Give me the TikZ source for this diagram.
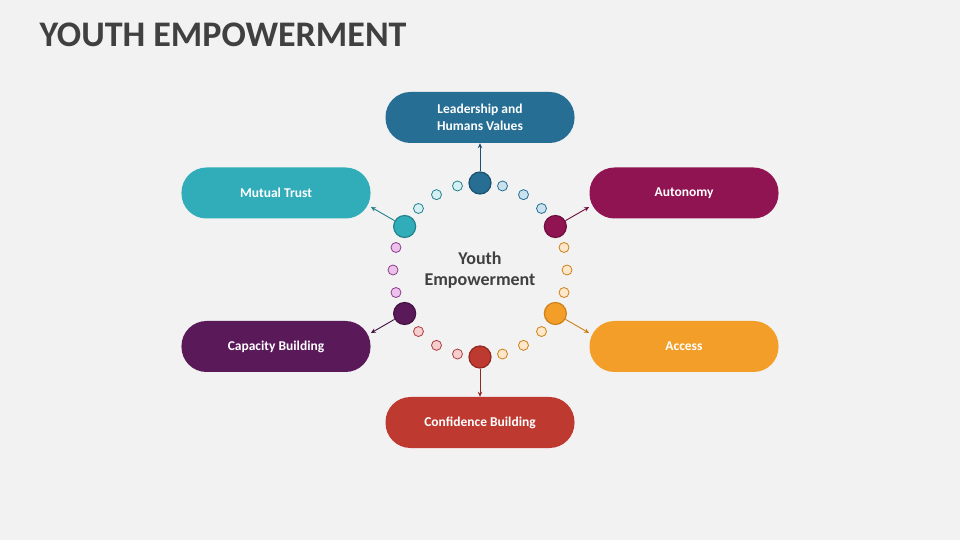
\documentclass[tikz,border=0pt]{standalone}
\usepackage{fontspec}
\setmainfont{Carlito}
\usepackage{tikz}
\usetikzlibrary{positioning, arrows.meta}
\definecolor{bggray}{RGB}{242,242,242}
\definecolor{inkgray}{RGB}{64,64,64}
\definecolor{cblue}{RGB}{38,110,148}
\definecolor{cblueedge}{RGB}{28,82,112}
\definecolor{cbluelite}{RGB}{202,226,240}
\definecolor{cteal}{RGB}{49,172,185}
\definecolor{ctealedge}{RGB}{36,130,140}
\definecolor{ctealite}{RGB}{212,240,244}
\definecolor{cmag}{RGB}{145,20,82}
\definecolor{cmagedge}{RGB}{110,14,62}
\definecolor{cpurp}{RGB}{90,26,90}
\definecolor{cpurpedge}{RGB}{66,18,66}
\definecolor{cpurplite}{RGB}{236,194,236}
\definecolor{cpurpdot}{RGB}{140,62,140}
\definecolor{corange}{RGB}{243,158,41}
\definecolor{corangeedge}{RGB}{205,128,24}
\definecolor{corangelite}{RGB}{255,231,202}
\definecolor{cred}{RGB}{190,58,48}
\definecolor{credge}{RGB}{146,40,34}
\definecolor{credlite}{RGB}{246,206,206}
\definecolor{creddot}{RGB}{170,62,62}

\begin{document}
\begin{tikzpicture}[x=1pt, y=1pt,
  pill/.style={rectangle, rounded corners=25pt, minimum width=189pt, minimum height=51pt, align=center, text=white, font=\bfseries\fontsize{13.5}{16.5}\selectfont},
  hub/.style={circle, minimum size=22pt, inner sep=0pt, line width=1.2pt},
  dot/.style={circle, minimum size=10pt, inner sep=0pt, line width=0.8pt},
  link/.style={-{Stealth[length=5pt, width=4.5pt]}, line width=0.9pt}
]
\fill[bggray] (-480,-270) rectangle (480,270);

\node[anchor=base west, text=inkgray, font=\bfseries\fontsize{36}{40}\selectfont] (title) at (-444,223) {YOUTH EMPOWERMENT};

\node[text=inkgray, align=center, font=\bfseries\fontsize{18}{21}\selectfont] (core) at (0,0) {Youth\\Empowerment};

% ring of small dots
\foreach \a/\fc/\dc in {45/cbluelite/cblue, 60/cbluelite/cblue, 75/cbluelite/cblue,
  105/ctealite/ctealedge, 120/ctealite/ctealedge, 135/ctealite/ctealedge,
  165/cpurplite/cpurpdot, 180/cpurplite/cpurpdot, 195/cpurplite/cpurpdot,
  225/credlite/creddot, 240/credlite/creddot, 255/credlite/creddot,
  285/corangelite/corangeedge, 300/corangelite/corangeedge, 315/corangelite/corangeedge,
  345/corangelite/corangeedge, 0/corangelite/corangeedge, 15/corangelite/corangeedge}
  \node[dot, fill=\fc, draw=\dc] (d\a) at (\a:87) {};

% hubs
\node[hub, fill=cblue, draw=cblueedge] (h1) at (90:87) {};
\node[hub, fill=cmag, draw=cmagedge] (h2) at (30:87) {};
\node[hub, fill=corange, draw=corangeedge] (h3) at (-30:87) {};
\node[hub, fill=cred, draw=credge] (h4) at (-90:87) {};
\node[hub, fill=cpurp, draw=cpurpedge] (h5) at (-150:87) {};
\node[hub, fill=cteal, draw=ctealedge] (h6) at (150:87) {};

% boxes
\node[pill, fill=cblue] (lead) at (0,152.5) {Leadership and\\Humans Values};
\node[pill, fill=cmag] (auto) at (204,77) {Autonomy};
\node[pill, fill=corange] (access) at (204,-76.5) {Access};
\node[pill, fill=cred] (conf) at (0,-152.5) {Confidence Building};
\node[pill, fill=cpurp] (capa) at (-204,-76.5) {Capacity Building};
\node[pill, fill=cteal] (trust) at (-204,77) {Mutual Trust};

\coordinate (e2) at (30:126);
\coordinate (e3) at (-30:126);
\coordinate (e5) at (-150:126);
\coordinate (e6) at (150:126);

\draw[link, cblueedge] (h1) -- (lead);
\draw[link, cmagedge] (h2) -- (e2);
\draw[link, corangeedge] (h3) -- (e3);
\draw[link, credge] (h4) -- (conf);
\draw[link, cpurpedge] (h5) -- (e5);
\draw[link, ctealedge] (h6) -- (e6);
\end{tikzpicture}
\end{document}
